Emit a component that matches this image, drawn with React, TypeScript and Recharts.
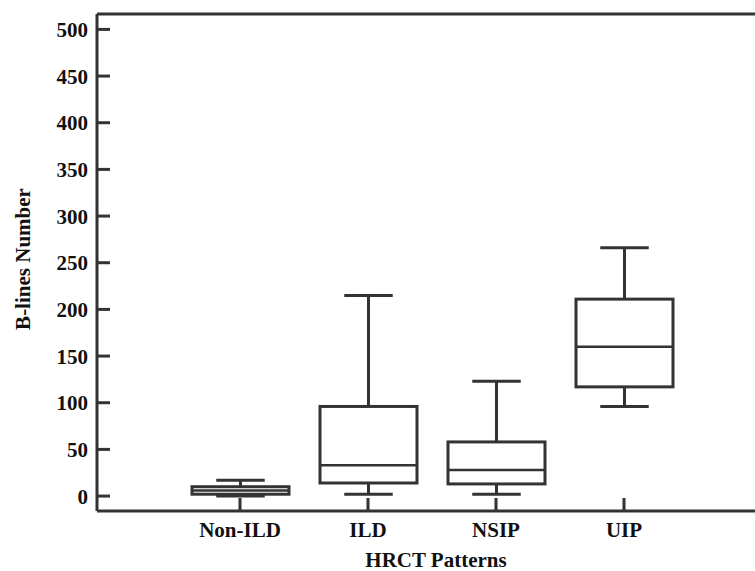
import * as React from 'react';
import { ComposedChart, Bar, XAxis, YAxis, ReferenceLine } from 'recharts';

const patterns = ['Non-ILD', 'ILD', 'NSIP', 'UIP'];
const minValues = [0, 2, 2, 96];
const q1Values = [2, 14, 13, 117];
const medianValues = [6, 33, 28, 160];
const q3Values = [10, 96, 58, 211];
const maxValues = [17, 215, 123, 266];
const yTicks = [0, 50, 100, 150, 200, 250, 300, 350, 400, 450, 500];

const Y_TOP = 516.5;

const data = patterns.map((name, i) => ({
	name,
	min: minValues[i],
	q1: q1Values[i],
	median: medianValues[i],
	q3: q3Values[i],
	max: maxValues[i],
	range: [minValues[i], maxValues[i]]
}));

const INK = '#333333';
const FONT = '"Liberation Serif", "Times New Roman", serif';

// draws one box plot inside the pixel span the bar gets for [min, max]
const BoxShape = (props: any) => {
	const { x, y, width, height, payload } = props;
	const { min, q1, median, q3, max } = payload;
	const toY = (v: number) => y + ((max - v) / (max - min)) * height;
	const cx = x + width / 2;
	const cap = width / 4;
	return (
		<g stroke={INK} strokeWidth={3} fill="none">
			<line x1={cx - cap} x2={cx + cap} y1={toY(max)} y2={toY(max)} />
			<line x1={cx} x2={cx} y1={toY(max)} y2={toY(q3)} />
			<rect x={x} y={toY(q3)} width={width} height={toY(q1) - toY(q3)} fill="#fff" />
			<line x1={x} x2={x + width} y1={toY(median)} y2={toY(median)} strokeWidth={2.5} />
			<line x1={cx} x2={cx} y1={toY(q1)} y2={toY(min)} />
			<line x1={cx - cap} x2={cx + cap} y1={toY(min)} y2={toY(min)} />
		</g>
	);
};

export default function App() {
	return (
		<div style={{ position: 'absolute', left: 0, top: 0 }}>
			<ComposedChart
				width={755}
				height={571}
				data={data}
				margin={{ top: 14, right: 0, bottom: 0, left: 0 }}
			>
				<XAxis
					dataKey="name"
					height={60}
					padding={{ left: 79, right: 67 }}
					stroke={INK}
					strokeWidth={3}
					tickSize={-13}
					tickMargin={24}
					tick={{ fill: '#111', fontSize: 21, fontWeight: 'bold', fontFamily: FONT }}
					label={{
						content: () => (
							<text
								x={436}
								y={567}
								textAnchor="middle"
								fill="#111"
								fontSize={21}
								fontWeight="bold"
								fontFamily={FONT}
							>
								HRCT Patterns
							</text>
						)
					}}
				/>
				<YAxis
					width={97}
					domain={[-16, Y_TOP]}
					ticks={yTicks}
					allowDataOverflow
					stroke={INK}
					strokeWidth={3}
					tickSize={-13}
					tickMargin={22}
					tick={{ fill: '#111', fontSize: 21, fontWeight: 'bold', fontFamily: FONT }}
					label={{
						content: () => (
							<text
								x={30}
								y={259}
								transform="rotate(-90 30 259)"
								textAnchor="middle"
								fill="#111"
								fontSize={21}
								fontWeight="bold"
								fontFamily={FONT}
							>
								B-lines Number
							</text>
						)
					}}
				/>
				<ReferenceLine y={Y_TOP} stroke={INK} strokeWidth={3} />
				<Bar
					dataKey="range"
					barSize={97}
					shape={BoxShape}
					isAnimationActive={false}
				/>
			</ComposedChart>
		</div>
	);
}
